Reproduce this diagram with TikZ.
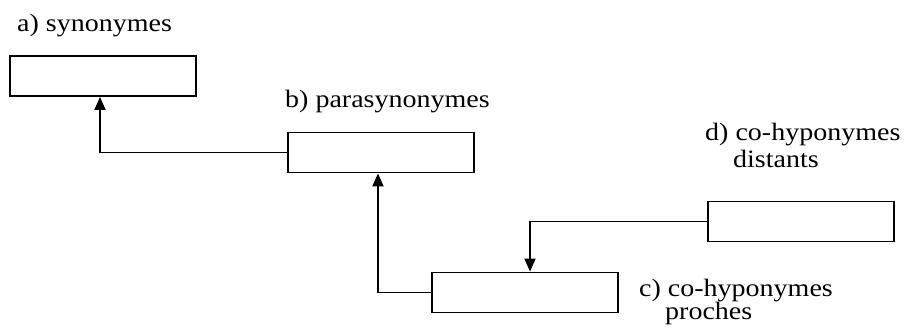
\documentclass[tikz,border=0pt]{standalone}
\usepackage{fontspec}
\setmainfont{Liberation Serif}[FakeStretch=1.12]
\usetikzlibrary{arrows.meta}
\begin{document}
\begin{tikzpicture}[x=1pt,y=-1pt,
  box/.style={draw,line width=1.8pt,inner sep=0pt,minimum width=186pt,minimum height=40pt},
  lbl/.style={anchor=base west,inner sep=0pt,font=\fontsize{25}{25}\selectfont,align=left},
  arr/.style={line width=1.8pt,-{Triangle[width=11pt,length=13pt]}}]
\useasboundingbox (0,0) rectangle (905,329);
\node[box] (a) at (103,76) {};
\node[box] (b) at (381,152.5) {};
\node[box] (c) at (525,292.5) {};
\node[box] (d) at (801,221.5) {};
\node[lbl] (la) at (17,32) {a) synonymes};
\node[lbl] (lb) at (285,107) {b) parasynonymes};
\node[lbl] (ld1) at (705,140) {d) co-hyponymes};
\node[lbl] (ld2) at (733,167) {distants};
\node[lbl] (lc1) at (639,296) {c) co-hyponymes};
\node[lbl] (lc2) at (665,319) {proches};
\draw[arr] (b.west) -| ([xshift=-3pt]a.south);
\draw[arr] (c.west) -| ([xshift=-3pt]b.south);
\draw[arr] (d.west) -| ([xshift=5pt]c.north);
\end{tikzpicture}
\end{document}
